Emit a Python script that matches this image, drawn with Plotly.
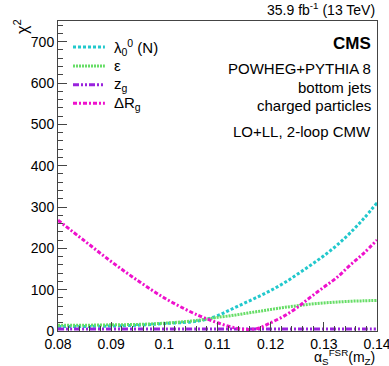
import plotly.graph_objects as go

alpha = [0.080, 0.085, 0.090, 0.095, 0.100, 0.105, 0.1075, 0.110, 0.1125, 0.115, 0.1175,
         0.120, 0.1225, 0.125, 0.1275, 0.130, 0.1325, 0.135, 0.1375, 0.140]

chi2_lambda = [11, 11, 12, 14, 18, 22, 27, 37, 52, 67, 82,
               98, 116, 137, 159, 182, 208, 238, 272, 310]
chi2_eps = [14, 14, 15, 16, 19, 24, 28, 33, 37, 42, 47,
            52, 57, 61, 65, 68, 70, 72, 73, 74]
chi2_zg = [5, 5, 5, 5, 5, 5, 5, 5, 5, 5, 5,
           5, 5, 5, 5, 5, 5, 5, 5, 5]
chi2_drg = [268, 218, 168, 122, 80, 46, 32, 20, 10, 4, 6,
            20, 36, 57, 82, 106, 130, 160, 188, 220]

x_tickvals = [0.08, 0.09, 0.10, 0.11, 0.12, 0.13, 0.14]
x_ticktext = ["0.08", "0.09", "0.1", "0.11", "0.12", "0.13", "0.14"]

names = ["λ<sub>0</sub><sup>0</sup> (N)", "ε", "z<sub>g</sub>", "ΔR<sub>g</sub>"]
colors = ["#22c8cc", "#66dd66", "#9922dd", "#ee11cc"]
dashes = ["3px,2px", "2px,1px", "6px,2px,2px,2px,2px,2px", "4px,2px,2px,2px"]
series = [chi2_lambda, chi2_eps, chi2_zg, chi2_drg]

FONT = "Liberation Sans, Arial, Helvetica, sans-serif"

fig = go.Figure()
for name, ys, c, d in zip(names, series, colors, dashes):
    fig.add_trace(go.Scatter(x=alpha, y=ys, mode="lines", name=name, showlegend=False,
                             line=dict(color=c, width=3, dash=d, shape="spline")))

axis_common = dict(
    showline=True, linecolor="#444", linewidth=1, mirror=True,
    ticks="inside", tickcolor="#444", ticklen=9, tickwidth=1,
    showgrid=False, zeroline=False, ticklabeloverflow="allow", automargin=False,
    tickfont=dict(family=FONT, size=14, color="black"),
)

fig.update_xaxes(range=[0.08, 0.14], tickvals=x_tickvals, ticktext=x_ticktext,
                 minor=dict(ticks="inside", ticklen=5, tick0=0.08, dtick=0.002, tickcolor="#444", showgrid=False),
                 **axis_common)
fig.update_yaxes(range=[0, 750], tick0=0, dtick=100,
                 minor=dict(ticks="inside", ticklen=5, dtick=20, tickcolor="#444", showgrid=False),
                 **axis_common)

# manual legend (line samples + labels)
legend_y = [0.916, 0.855, 0.794, 0.735]
shapes = []
annotations = []
for name, c, d, ly in zip(names, colors, dashes, legend_y):
    shapes.append(dict(type="line", xref="paper", yref="paper", x0=0.047, x1=0.147, y0=ly, y1=ly,
                       line=dict(color=c, width=3, dash=d)))
    annotations.append(dict(text=name, x=0.169, y=ly, xanchor="left", yanchor="middle",
                            font=dict(size=15)))

annotations += [
    dict(text="35.9 fb<sup>-1</sup> (13 TeV)", x=1.0, y=1.0, xanchor="right", yanchor="bottom",
         font=dict(size=14), yshift=1),
    dict(text="<b>CMS</b>", x=0.987, y=0.926, xanchor="right", yanchor="middle", font=dict(size=17)),
    dict(text="POWHEG+PYTHIA 8", x=0.987, y=0.848, xanchor="right", yanchor="middle", font=dict(size=15)),
    dict(text="bottom jets", x=0.987, y=0.787, xanchor="right", yanchor="middle", font=dict(size=15)),
    dict(text="charged particles", x=0.987, y=0.726, xanchor="right", yanchor="middle", font=dict(size=15)),
    dict(text="LO+LL, 2-loop CMW", x=0.987, y=0.642, xanchor="right", yanchor="middle", font=dict(size=15)),
    dict(text="α<sub>S</sub><sup>FSR</sup>(m<sub>Z</sub>)", x=1.0, y=-0.085, xanchor="right", yanchor="middle",
         font=dict(size=14)),
    dict(text="χ<sup>2</sup>", x=-0.116, y=0.984, xanchor="center", yanchor="middle", textangle=-90,
         font=dict(size=16)),
]
for a in annotations:
    a.update(xref="paper", yref="paper", showarrow=False)
    a["font"].update(family=FONT, color="black")

fig.update_layout(
    width=389, height=366,
    margin=dict(l=58, r=12, t=21, b=35, autoexpand=False),
    paper_bgcolor="white", plot_bgcolor="white",
    font=dict(family=FONT, color="black"),
    showlegend=False,
    annotations=annotations,
    shapes=shapes,
)

fig.write_html("out.html")
